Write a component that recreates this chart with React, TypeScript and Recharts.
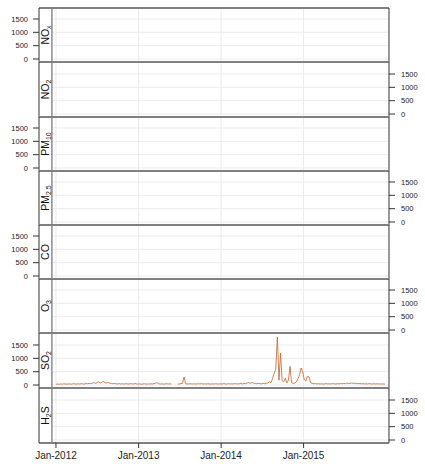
import { LineChart, Line, XAxis, YAxis, ReferenceArea, ReferenceLine } from 'recharts';

const DAY = 86400000;
const T0 = Date.UTC(2012, 0, 1);

// time axis limits and the left strip edge
const xStart = T0 - 75 * DAY;
const xEnd = Date.UTC(2016, 0, 14);
const stripEdge = T0 - 18 * DAY;

const yearTicks = [Date.UTC(2012, 0, 1), Date.UTC(2013, 0, 1), Date.UTC(2014, 0, 1), Date.UTC(2015, 0, 1)];
const yearLabels = ['Jan-2012', 'Jan-2013', 'Jan-2014', 'Jan-2015'];

const concTicks = [0, 500, 1000, 1500];
const concMin = -112.5;
const concPerPx = 37.5;

// weekly SO2, starting first week of 2012 (null = missing)
const so2: (number | null)[] = [
  30, 35, 28, 40, 32, 45, 38, 30, 42, 36, 33, 48, 40,
  35, 44, 38, 50, 42, 36, 55, 47, 60, 52, 70, 85, 65,
  95, 120, 80, 110, 130, 90, 75, 100, 70, 55, 48, 60, 45,
  40, 52, 38, 45, 35, 48, 42, 36, 50, 44, 38, 55, 40,
  35, 42, 30, 38, 46, 33, 40, 36, 44, 38, 50, 70, 85,
  45, 38, 42, 35, 40, 48, 36, 44, 38, null, null, null, 40,
  35, 55, 60, 300, 45, 38, 42, 50, 36, 44, 40, 38, 46,
  42, 50, 38, 44, 36, 48, 40, 35, 42, 38, 46, 40, 36,
  44, 38, 50, 42, 36, 48, 40, 45, 38, 52, 44, 40, 48,
  55, 42, 60, 50, 75, 90, 65, 100, 70, 55, 48, 62, 50,
  45, 58, 50, 65, 80, 120, 90, 250, 450, 600, 1800, 180, 1200,
  160, 120, 250, 80, 180, 700, 90, 60, 75, 120, 220, 380, 640,
  500, 200, 150, 330, 300, 90, 60, 45, 55, 40, 48, 38, 44,
  36, 42, 50, 38, 45, 40, 52, 44, 38, 48, 42, 55, 46,
  60, 50, 75, 58, 65, 80, 55, 70, 62, 48, 56, 44, 50,
  40, 46, 38, 52, 42, 36, 48, 40, 45, 38, 42, 36, 40, 35,
];
const nox: (number | null)[] = [];
const no2: (number | null)[] = [];
const pm10: (number | null)[] = [];
const pm25: (number | null)[] = [];
const co: (number | null)[] = [];
const o3: (number | null)[] = [];
const h2s: (number | null)[] = [];

const weeks = so2.map((_, i) => T0 + i * 7 * DAY);

type Part = [string, boolean];
const panels: { label: Part[]; values: (number | null)[] }[] = [
  { label: [['NO', false], ['x', true]], values: nox },
  { label: [['NO', false], ['2', true]], values: no2 },
  { label: [['PM', false], ['10', true]], values: pm10 },
  { label: [['PM', false], ['2.5', true]], values: pm25 },
  { label: [['CO', false]], values: co },
  { label: [['O', false], ['3', true]], values: o3 },
  { label: [['SO', false], ['2', true]], values: so2 },
  { label: [['H', false], ['2', true], ['S', false]], values: h2s },
];

// panel edges, top to bottom, in page pixels
const edges = [8, 62, 117, 171, 225, 279, 333, 388, 443];

const FONT = '"Liberation Sans", Arial, sans-serif';
const BORDER = '#808080';
const INK = '#333';
const GRID = '#ebebeb';

function StripLabel({ viewBox, parts }: { viewBox?: any; parts: Part[] }) {
  if (!viewBox) return null;
  const x = viewBox.x - 3;
  const y = viewBox.y + viewBox.height / 2;
  return (
    <text x={x} y={y} transform={`rotate(-90 ${x} ${y})`} textAnchor="middle" fontSize={10.5} fontFamily={FONT} fill="#111">
      {parts.map(([s, sub], i) =>
        sub ? (
          <tspan key={i} fontSize={7} dy={2.5}>{s}</tspan>
        ) : (
          <tspan key={i} dy={i > 0 ? -2.5 : 0}>{s}</tspan>
        )
      )}
    </text>
  );
}

function Panel({ index }: { index: number }) {
  const { label, values } = panels[index];
  const first = index === 0;
  const last = index === panels.length - 1;
  const topH = first ? 8 : 0.01;
  const botH = last ? 25 : 0.01;
  const h = edges[index + 1] - edges[index];
  const domain: [number, number] = [concMin, concMin + h * concPerPx];
  const leftLabels = index % 2 === 0;
  const rows = weeks.map((t, i) => ({ t, v: values[i] ?? null }));
  const yTick = { fontSize: 7.5, fill: '#222', fontFamily: FONT };

  return (
    <div style={{ position: 'absolute', left: 0, top: edges[index] - topH }}>
      <LineChart width={425} height={topH + h + botH} data={rows} margin={{ top: 0, right: 0, bottom: 0, left: 0 }}>
        <XAxis
          xAxisId="b"
          orientation="bottom"
          type="number"
          dataKey="t"
          domain={[xStart, xEnd]}
          allowDataOverflow
          ticks={yearTicks}
          interval={0}
          height={botH}
          axisLine={{ stroke: BORDER, strokeWidth: 2 }}
          tickLine={last ? { stroke: INK } : false}
          tickSize={5}
          tickMargin={4}
          tick={last ? { fontSize: 10, fill: '#222', fontFamily: FONT } : false}
          tickFormatter={(t: number) => yearLabels[yearTicks.indexOf(t)] ?? ''}
        />
        <XAxis
          xAxisId="t"
          orientation="top"
          type="number"
          dataKey="t"
          domain={[xStart, xEnd]}
          allowDataOverflow
          ticks={yearTicks}
          interval={0}
          height={topH}
          axisLine={{ stroke: BORDER, strokeWidth: 2 }}
          tickLine={first ? { stroke: INK } : false}
          tickSize={5}
          tick={false}
        />
        <YAxis
          yAxisId="l"
          orientation="left"
          type="number"
          width={39}
          domain={domain}
          allowDataOverflow
          ticks={concTicks}
          interval={0}
          axisLine={{ stroke: INK }}
          tickLine={{ stroke: INK }}
          tickSize={6}
          tickMargin={5}
          tick={leftLabels ? yTick : false}
        />
        <YAxis
          yAxisId="r"
          orientation="right"
          type="number"
          width={36}
          domain={domain}
          allowDataOverflow
          ticks={concTicks}
          interval={0}
          axisLine={{ stroke: INK }}
          tickLine={{ stroke: INK }}
          tickSize={6}
          tickMargin={6}
          tick={leftLabels ? false : { ...yTick, textAnchor: 'start' }}
        />
        {/* light grid, kept to the right of the strip */}
        {yearTicks.map((t) => (
          <ReferenceLine key={`gx${t}`} xAxisId="b" yAxisId="l" x={t} stroke={GRID} />
        ))}
        {concTicks.map((v) => (
          <ReferenceLine
            key={`gy${v}`}
            xAxisId="b"
            yAxisId="l"
            segment={[{ x: stripEdge, y: v }, { x: xEnd, y: v }]}
            stroke={GRID}
          />
        ))}
        <ReferenceArea xAxisId="b" yAxisId="l" x1={xStart} x2={stripEdge} fill="#fff" fillOpacity={1} stroke="none" />
        <ReferenceLine
          xAxisId="b"
          yAxisId="l"
          x={stripEdge}
          stroke="#8c8c8c"
          strokeWidth={1.5}
          label={{ content: (p: any) => <StripLabel viewBox={p.viewBox} parts={label} /> }}
        />
        <Line
          xAxisId="b"
          yAxisId="l"
          type="linear"
          dataKey="v"
          stroke="#c0622b"
          strokeOpacity={0.8}
          strokeWidth={1}
          dot={false}
          activeDot={false}
          isAnimationActive={false}
        />
      </LineChart>
    </div>
  );
}

export default function App() {
  return (
    <div style={{ position: 'absolute', left: 0, top: 0, width: 425, height: 468, background: '#fff' }}>
      {/* zero-tick labels sit right on a panel's lower edge */}
      <style>{'.recharts-surface { overflow: visible; }'}</style>
      {panels.map((_, i) => (
        <Panel key={i} index={i} />
      ))}
    </div>
  );
}
